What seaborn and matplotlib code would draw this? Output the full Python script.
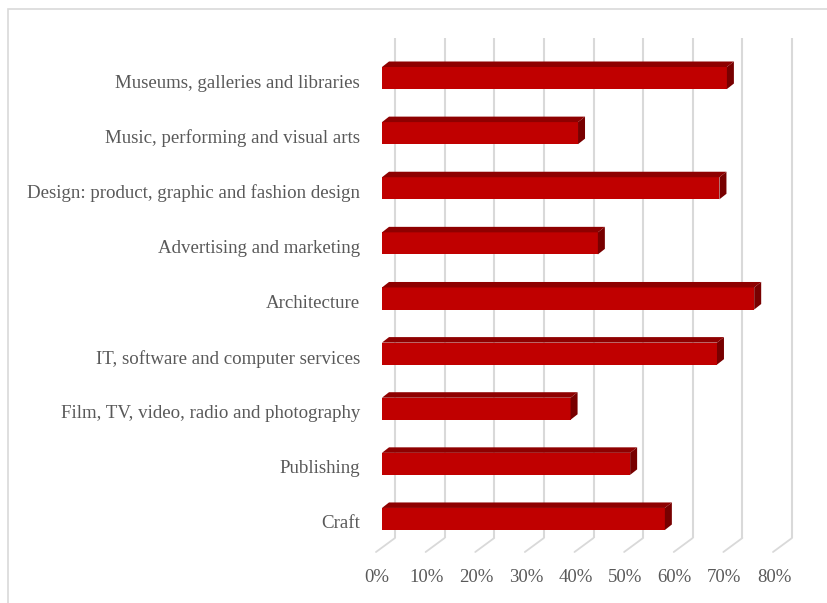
import matplotlib
matplotlib.use("Agg")
import matplotlib.pyplot as plt
from matplotlib.patches import Polygon, Rectangle
import seaborn as sns
import pandas as pd

# Share of businesses per creative sector
sectors = [
    "Museums, galleries and libraries",
    "Music, performing and visual arts",
    "Design: product, graphic and fashion design",
    "Advertising and marketing",
    "Architecture",
    "IT, software and computer services",
    "Film, TV, video, radio and photography",
    "Publishing",
    "Craft",
]
shares = [0.695, 0.395, 0.68, 0.435, 0.75, 0.675, 0.38, 0.50, 0.57]
tick_values = [0.0, 0.1, 0.2, 0.3, 0.4, 0.5, 0.6, 0.7, 0.8]
tick_labels = ["0%", "10%", "20%", "30%", "40%", "50%", "60%", "70%", "80%"]

df = pd.DataFrame({"sector": sectors, "share": shares})

sns.set_theme(style="white")
plt.rcParams["font.family"] = ["Liberation Serif", "DejaVu Serif"]

W, H = 827, 603
fig = plt.figure(figsize=(W / 100, H / 100), dpi=100)

# plot area in pixels: x 0..0.8 -> 382..779, categories -1..9 -> 22.9..574.1
px_left, px_right = 382, 779
py_top, py_bot = 22.9, 574.1
ax = fig.add_axes([px_left / W, 1 - py_bot / H,
                   (px_right - px_left) / W, (py_bot - py_top) / H])

front = "#C00000"
top_c = "#8E0000"
side_c = "#780000"
grid_c = "#D9D9D9"
text_c = "#595959"

sns.barplot(data=df, x="share", y="sector", orient="h", color=front,
            width=0.4, saturation=1, ax=ax, zorder=3, edgecolor="none")

ax.set_xlim(0, 0.8)
ax.set_ylim(9, -1)

xpp = 0.8 / (px_right - px_left)          # data units per pixel (x)
ypp = 10 / (py_bot - py_top)              # data units per pixel (y)

# back wall gridlines and floor edges
back_dx, back_top, back_bot = 13 * xpp, -1 + (38 - py_top) * ypp, -1 + (538 - py_top) * ypp
floor_dx, floor_y = -6 * xpp, -1 + (552 - py_top) * ypp
for v in tick_values:
    ax.plot([v + back_dx, v + back_dx], [back_top, back_bot], color=grid_c,
            lw=1.5, zorder=1, solid_capstyle="butt", clip_on=False)
    ax.plot([v + back_dx, v + floor_dx], [back_bot, floor_y], color=grid_c,
            lw=1.3, zorder=1, clip_on=False)

# depth faces of the bars
ddx, ddy = 7 * xpp, -5.5 * ypp
for patch in ax.patches[:len(shares)]:
    x0, y0 = patch.get_x(), patch.get_y()
    w, h = patch.get_width(), patch.get_height()
    y_top, y_bottom = y0, y0 + h
    ax.add_patch(Polygon([(x0, y_top), (x0 + w, y_top), (x0 + w + ddx, y_top + ddy),
                          (x0 + ddx, y_top + ddy)], closed=True, facecolor=top_c,
                         edgecolor="none", zorder=3))
    ax.add_patch(Polygon([(x0 + w, y_top), (x0 + w + ddx, y_top + ddy),
                          (x0 + w + ddx, y_bottom + ddy), (x0 + w, y_bottom)],
                         closed=True, facecolor=side_c, edgecolor="none", zorder=3))

for s in ax.spines.values():
    s.set_visible(False)
ax.set_xlabel("")
ax.set_ylabel("")
ax.grid(False)
ax.set_xticks([])
ax.set_yticks([])

# tick labels along the front floor edge
label_y = -1 + (577 - py_top) * ypp
for v, lab in zip(tick_values, tick_labels):
    ax.text(v - 5 * xpp, label_y, lab, ha="center", va="center",
            fontsize=13.5, color=text_c, clip_on=False)

# category labels
for i, name in enumerate(sectors):
    ax.text(-22 * xpp, i + 5 * ypp, name, ha="right", va="center",
            fontsize=13.6, color=text_c, clip_on=False)

# outer chart frame
fig.patches.append(Rectangle((7.5 / W, -0.01), 1.02, 1 - 8.5 / H + 0.01,
                             transform=fig.transFigure, fill=False,
                             edgecolor="#D9D9D9", lw=1.2))

fig.savefig("out.png", dpi=100, facecolor="white")
